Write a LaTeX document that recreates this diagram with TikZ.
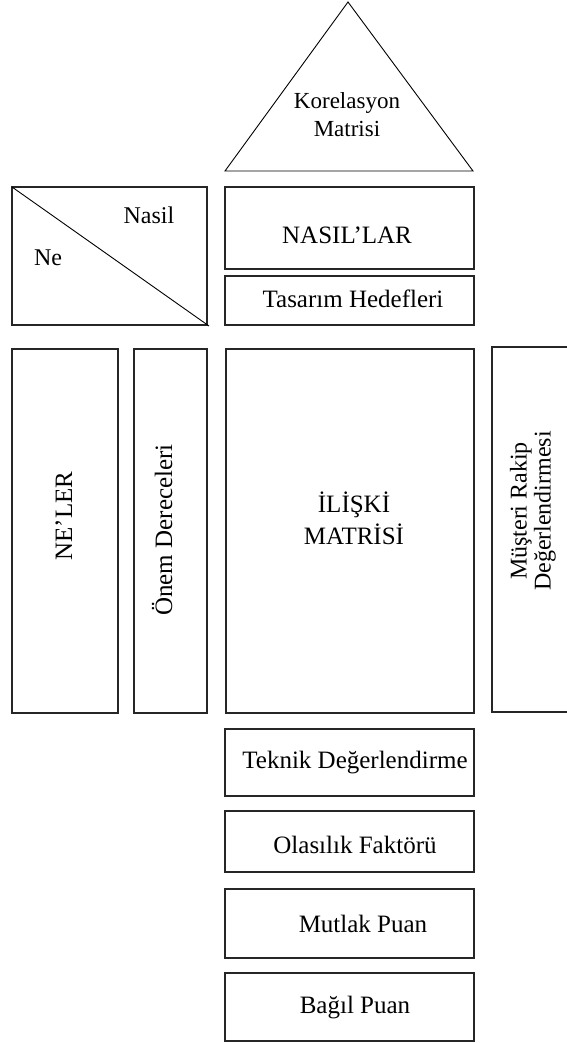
\documentclass[tikz,border=0pt]{standalone}
\usepackage{fontspec}
\setmainfont{Liberation Serif}
\begin{document}
\begin{tikzpicture}[x=1pt, y=-1pt,
  panel/.style={draw=black!85, line width=1.5pt, rectangle, inner sep=0pt, outer sep=0pt},
  hair/.style={draw=black, line width=0.9pt},
  txt/.style={inner sep=0pt, outer sep=0pt, font=\fontsize{25}{32}\selectfont},
  small/.style={inner sep=0pt, outer sep=0pt, font=\fontsize{24}{24}\selectfont},
]
\useasboundingbox (0,0) rectangle (566,1043);
\fill[white] (0,0) rectangle (566,1043);

% roof: correlation triangle
\coordinate (apex) at (348,2);
\coordinate (roofL) at (225,171);
\coordinate (roofR) at (473,171);
\draw[hair] (apex) -- (roofL) -- (roofR) -- cycle;
\node[inner sep=0pt, align=center, font=\fontsize{23}{28}\selectfont] (corr) at (347,114.2) {Korelasyon\\Matrisi};

% corner box with the what / how diagonal
\node[panel, minimum width=195pt, minimum height=138pt] (corner) at (109.5,256) {};
\draw[hair] (corner.north west) -- ([shift={(2pt,-1pt)}]corner.south east);
\node[small, anchor=base] (howlbl) at (149,223) {Nasil};
\node[small, anchor=base] (whatlbl) at (48,265) {Ne};

% hows and design targets
\node[panel, minimum width=249pt, minimum height=82pt] (hows) at (349.5,228) {};
\node[txt, anchor=base] (howst) at (347,243) {NASIL'LAR};
\node[panel, minimum width=249pt, minimum height=49pt] (targets) at (349.5,300.5) {};
\node[txt, anchor=base] (targetst) at (353,307) {Tasarım Hedefleri};

% middle band
\node[panel, minimum width=106pt, minimum height=364pt] (whats) at (65,531) {};
\node[txt, anchor=base, rotate=90] (whatst) at (72,516) {NE'LER};
\node[panel, minimum width=73pt, minimum height=364pt] (weights) at (170.5,531) {};
\node[txt, anchor=base, rotate=90] (weightst) at (172,530) {Önem Dereceleri};
\node[panel, minimum width=248pt, minimum height=364pt] (relmat) at (350,531) {};
\node[txt, align=center] (relmatt) at (354,518.3) {İLİŞKİ\\MATRİSİ};
\node[panel, minimum width=80pt, minimum height=365pt] (rival) at (532,529.5) {};
\node[small, align=center, rotate=90] (rivalt) at (532.9,511) {Müşteri Rakip\\Değerlendirmesi};

% basement rows
\node[panel, minimum width=249pt, minimum height=67pt] (tech) at (349.5,762.5) {};
\node[txt, anchor=base] (techt) at (355,768) {Teknik Değerlendirme};
\node[panel, minimum width=249pt, minimum height=61pt] (prob) at (349.5,841.5) {};
\node[txt, anchor=base] (probt) at (355,853) {Olasılık Faktörü};
\node[panel, minimum width=249pt, minimum height=69pt] (absol) at (349.5,923.5) {};
\node[txt, anchor=base] (absolt) at (363,932) {Mutlak Puan};
\node[panel, minimum width=249pt, minimum height=68pt] (relsc) at (349.5,1007) {};
\node[txt, anchor=base] (relsct) at (355,1013) {Bağıl Puan};
\end{tikzpicture}
\end{document}
